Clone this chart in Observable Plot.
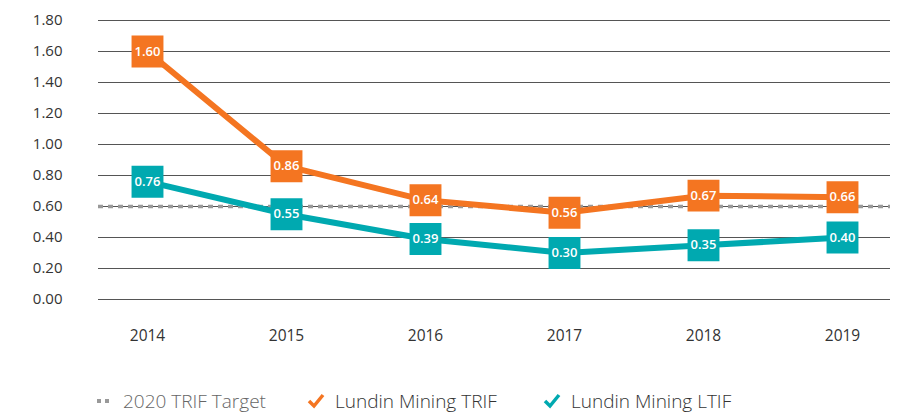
<!DOCTYPE html>
<html><head><meta charset="utf-8">
<script src="https://cdn.jsdelivr.net/npm/d3@7"></script>
<script src="https://cdn.jsdelivr.net/npm/@observablehq/plot@0.6"></script>
<style>
body{margin:0;background:#fff;font-family:"Open Sans",sans-serif;overflow:hidden;}
#chart svg{display:block;}
#legend{position:relative;height:22px;line-height:22px;margin-top:40px;font-size:19px;font-weight:300;color:#333;}
.item{display:flex;align-items:center;position:absolute;top:0;height:22px;}
</style></head><body>
<div id="chart"></div>
<div id="legend">
  <div class="item" style="left:97px;color:#666"><svg width="16" height="10"><line x1="0" y1="5" x2="15" y2="5" stroke="#999" stroke-width="4" stroke-dasharray="4,4"/></svg><span style="margin-left:10px">2020 TRIF Target</span></div>
  <div class="item" style="left:306px"><svg width="20" height="18"><path d="M3,9 L8,14 L17,3" fill="none" stroke="#F47521" stroke-width="3.5"/></svg><span style="margin-left:9px">Lundin Mining TRIF</span></div>
  <div class="item" style="left:542px"><svg width="20" height="18"><path d="M3,9 L8,14 L17,3" fill="none" stroke="#00A9B0" stroke-width="3.5"/></svg><span style="margin-left:9px">Lundin Mining LTIF</span></div>
</div>
<script>
const years = ["2014","2015","2016","2017","2018","2019"];
const trif = [1.60,0.86,0.64,0.56,0.67,0.66];
const ltif = [0.76,0.55,0.39,0.30,0.35,0.40];
const target = 0.60;
const yTicks = [0,0.2,0.4,0.6,0.8,1.0,1.2,1.4,1.6,1.8];

const rows = s => years.map((y,i)=>({year:y, v:s[i]}));
const T = rows(trif), L = rows(ltif);
const orange="#F47521", teal="#00A9B0";

const plot = Plot.plot({
  width:905, height:350,
  marginLeft:98, marginRight:15, marginTop:20, marginBottom:51,
  style:{fontFamily:"Open Sans", fontSize:"15px", color:"#333", background:"#fff"},
  x:{type:"point", domain:years, padding:0.34, label:null},
  y:{domain:[0,1.8], label:null},
  marks:[
    Plot.ruleY(yTicks, {stroke:"#555", strokeWidth:1}),
    Plot.ruleY([target], {stroke:"#999", strokeWidth:3.5, strokeDasharray:"5,5"}),
    Plot.axisY({ticks:yTicks, tickFormat:d=>d.toFixed(2), tickSize:0, tickPadding:36, fontSize:15}),
    Plot.axisX({tickSize:0, tickPadding:30, fontSize:15.5}),
    Plot.line(T,{x:"year",y:"v",stroke:orange,strokeWidth:6}),
    Plot.line(L,{x:"year",y:"v",stroke:teal,strokeWidth:6}),
    Plot.dot(T,{x:"year",y:"v",symbol:"square",r:18,fill:orange}),
    Plot.dot(L,{x:"year",y:"v",symbol:"square",r:18,fill:teal}),
    Plot.text(T,{x:"year",y:"v",text:d=>d.v.toFixed(2),fill:"white",fontSize:13,fontWeight:600}),
    Plot.text(L,{x:"year",y:"v",text:d=>d.v.toFixed(2),fill:"white",fontSize:13,fontWeight:600})
  ]
});
document.getElementById("chart").appendChild(plot);
</script>
</body></html>
